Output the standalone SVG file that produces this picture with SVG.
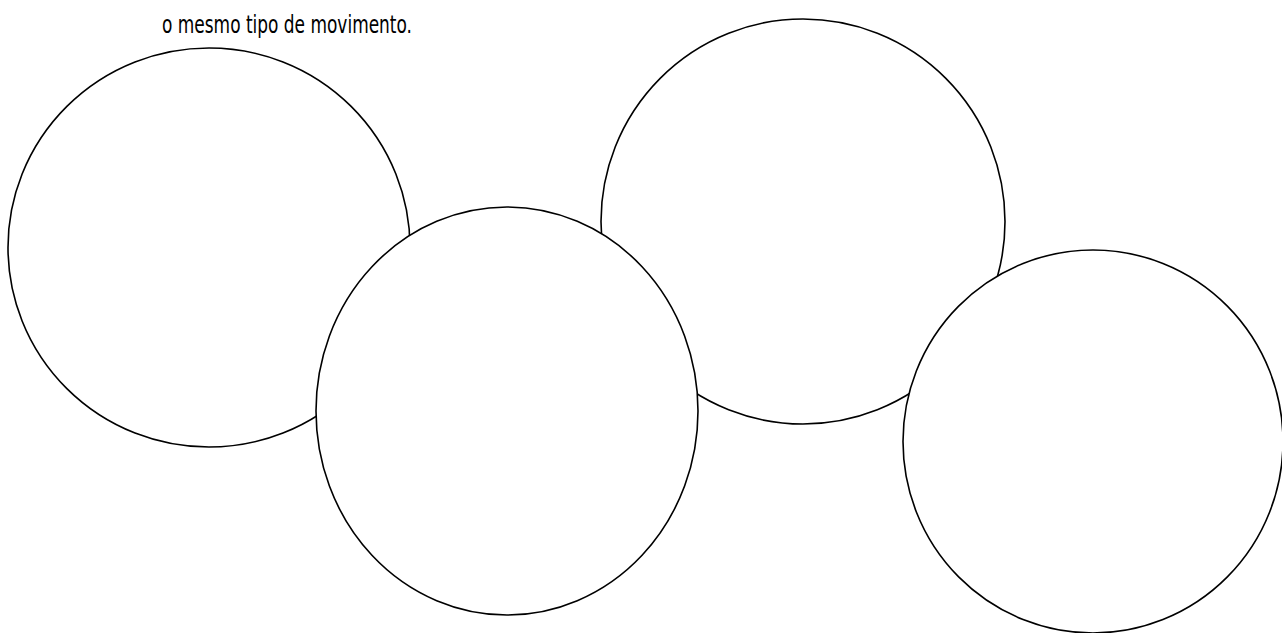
<svg xmlns="http://www.w3.org/2000/svg" width="1282" height="633" viewBox="0 0 1282 633">
<style>
.c{fill:#fff;stroke:#000;stroke-width:1.6}
.t{font-family:"Comic Sans MS","DejaVu Sans","Liberation Sans",sans-serif;font-size:24px;fill:#000}
</style>
<rect width="1282" height="633" fill="#fff"/>
<text class="t" x="162" y="33" textLength="250" lengthAdjust="spacingAndGlyphs">o mesmo tipo de movimento.</text>
<g id="circle1"><ellipse class="c" cx="209" cy="247.5" rx="201" ry="199.5"/></g>
<g id="circle3"><ellipse class="c" cx="803" cy="221.5" rx="202" ry="202.5"/></g>
<g id="circle2"><ellipse class="c" cx="507" cy="411" rx="191" ry="204"/></g>
<g id="circle4"><ellipse class="c" cx="1093" cy="441.5" rx="190" ry="191.5"/></g>
<g id="connectors"></g>
</svg>
